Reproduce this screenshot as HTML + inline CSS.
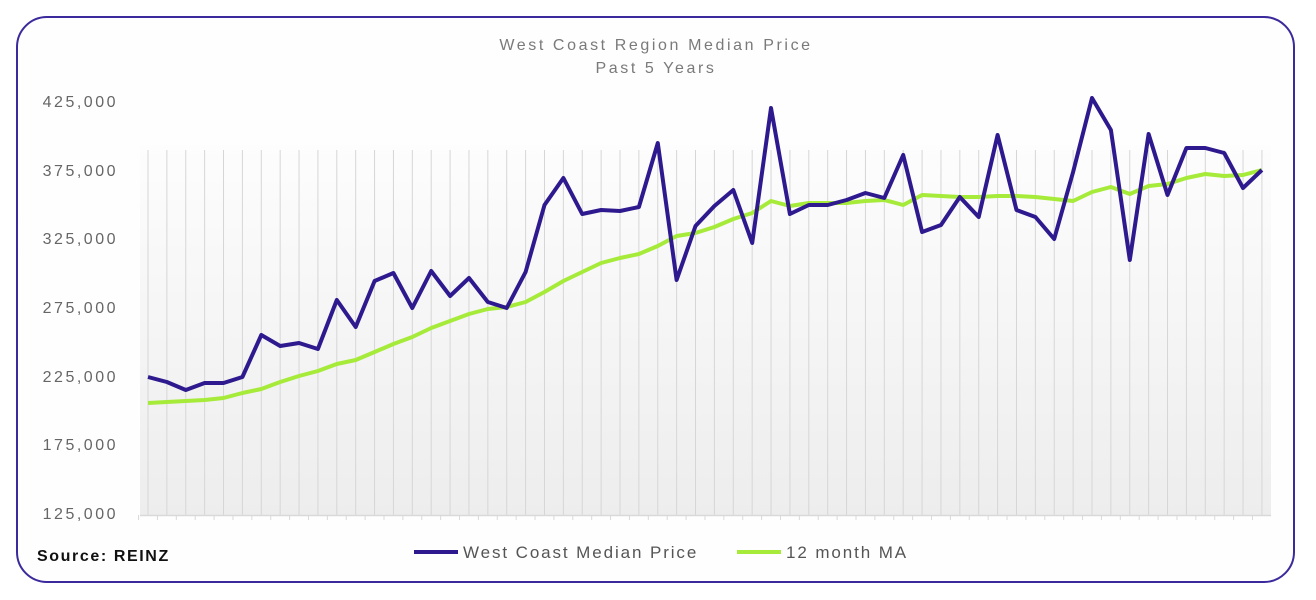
<!DOCTYPE html>
<html><head><meta charset="utf-8"><style>
html,body{margin:0;padding:0;background:#fff;width:1316px;height:600px;overflow:hidden}
svg{display:block;font-family:"Liberation Sans",sans-serif}
</style></head><body>
<svg id="s" width="1316" height="600" viewBox="0 0 1316 600">
<defs><linearGradient id="g" x1="0" y1="0" x2="0" y2="1">
<stop offset="0" stop-color="#fdfdfd"/><stop offset="1" stop-color="#ededed"/></linearGradient></defs>
<rect x="17" y="17" width="1277" height="565" rx="30" fill="#fefefe" stroke="#3b2a9c" stroke-width="2"/>
<rect x="140" y="145" width="1131" height="370" fill="url(#g)"/>
<g id="grid" stroke="#d6d6d6" stroke-width="1"></g>
<line x1="140" y1="515.5" x2="1271" y2="515.5" stroke="#d9d9d9" stroke-width="1.5"/>
<g id="ticks" stroke="#d9d9d9" stroke-width="1"></g>
<g fill="#666" font-size="16" text-anchor="end" letter-spacing="2.5">
<text x="118" y="107">425,000</text>
<text x="118" y="176">375,000</text>
<text x="118" y="244">325,000</text>
<text x="118" y="313">275,000</text>
<text x="118" y="382">225,000</text>
<text x="118" y="450">175,000</text>
<text x="118" y="519">125,000</text>
</g>
<g fill="#7a7a7a" font-size="16" text-anchor="middle" letter-spacing="2.6">
<text x="656" y="50">West Coast Region Median Price</text>
<text x="656" y="73">Past 5 Years</text>
</g>
<polyline id="ma" fill="none" stroke="#a6ea3a" stroke-width="4" stroke-linejoin="round"/>
<polyline id="mp" fill="none" stroke="#2e1a8e" stroke-width="4" stroke-linejoin="round"/>
<text x="37" y="561" font-size="16" font-weight="bold" fill="#111" letter-spacing="1.6">Source: REINZ</text>
<line x1="414" y1="552" x2="458" y2="552" stroke="#2e1a8e" stroke-width="4"/>
<text x="463" y="558" font-size="17" fill="#555" letter-spacing="1.9">West Coast Median Price</text>
<line x1="737" y1="552" x2="781" y2="552" stroke="#a6ea3a" stroke-width="4"/>
<text x="786" y="558" font-size="17" fill="#555" letter-spacing="1.9">12 month MA</text>
</svg>
<script>
var b=[377,382,390,383,383,377,335,346,343,349,300,327,281,273,308,271,296,278,302,308,272,205,178,214,210,211,207,143,280,226,206,190,243,108,214,205,205,200,193,198,155,232,225,197,217,135,210,217,239,172,98,130,260,134,195,148,148,153,188,170];
var g=[403,402,401,400,398,393,389,382,376,371,364,360,352,344,337,328,321,314,309,307,302,292,281,272,263,258,254,246,236,233,227,219,213,201,206,203,203,203,201,200,205,195,196,197,197,196,196,197,199,201,192,187,194,186,184,178,174,176,175,170];
var ns="http://www.w3.org/2000/svg",gr=document.getElementById("grid"),tk=document.getElementById("ticks");
var pb=[],pg=[];
for(var i=0;i<60;i++){var x=148+18.88*i;pb.push(x.toFixed(1)+","+b[i]);pg.push(x.toFixed(1)+","+g[i]);
var l=document.createElementNS(ns,"line");l.setAttribute("x1",x);l.setAttribute("x2",x);l.setAttribute("y1",150);l.setAttribute("y2",515);gr.appendChild(l);
var t=document.createElementNS(ns,"line");var tx=x-9.44;t.setAttribute("x1",tx);t.setAttribute("x2",tx);t.setAttribute("y1",515);t.setAttribute("y2",520);tk.appendChild(t);}
document.getElementById("mp").setAttribute("points",pb.join(" "));
document.getElementById("ma").setAttribute("points",pg.join(" "));
</script>
</body></html>
